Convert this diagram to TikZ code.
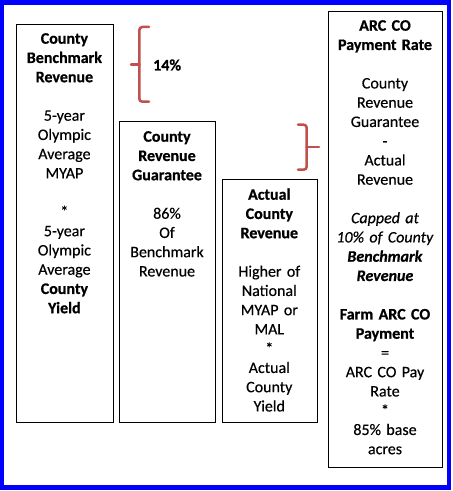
\documentclass[tikz,border=0pt]{standalone}
\usepackage{fontspec}
\setmainfont{Carlito}[UprightFeatures={FakeBold=0.35},BoldFeatures={FakeBold=0.7},
  ItalicFeatures={FakeBold=0.35},BoldItalicFeatures={FakeBold=0.7}]
\definecolor{framecol}{RGB}{0,0,255}
\definecolor{bracecol}{RGB}{192,80,77}
\tikzset{
  box/.style={draw=black, line width=1bp, anchor=north west, inner sep=0, fill=white},
  boxtext/.style={anchor=north, inner sep=0, align=center, text width=100bp,
    font=\fontsize{16bp}{19.25bp}\selectfont},
  brace/.style={draw=bracecol, line width=2.5bp, rounded corners=3bp, line cap=round},
}
\newcommand{\fl}{\rule{0pt}{13bp}}
\newcommand{\st}{\relax{*}}
\begin{document}
\begin{tikzpicture}[x=1bp,y=-1bp]
\useasboundingbox (0,0) rectangle (453,491);
\fill[white] (0,0) rectangle (453,491);
\draw[framecol, line width=4.5bp] (2.2,2.5) rectangle (449,487.5);

\node[box, minimum width=96.7bp, minimum height=398bp] (b1) at (16,24) {};
\node[box, minimum width=96bp, minimum height=301bp] (b2) at (119,121) {};
\node[box, minimum width=95.3bp, minimum height=243bp] (b3) at (221.7,179) {};
\node[box, minimum width=114bp, minimum height=456.3bp] (b4) at (328,10.7) {};

\node[boxtext] (t1) at (64.4,30.5) {\fl\textbf{County}\\ \textbf{Benchmark}\\ \textbf{Revenue}\\[19.25bp]
5-year\\ Olympic\\ Average\\ MYAP\\[19.25bp] \st\\ 5-year\\ Olympic\\ Average\\ \textbf{County}\\ \textbf{Yield}};

\node[boxtext] (t2) at (167,128.5) {\fl\textbf{County}\\ \textbf{Revenue}\\ \textbf{Guarantee}\\[19.25bp]
86\%\\ Of\\ Benchmark\\ Revenue};

\node[boxtext] (t3) at (269.3,186.5) {\fl\textbf{Actual}\\ \textbf{County}\\ \textbf{Revenue}\\[19.25bp]
Higher of\\ National\\ MYAP or\\ MAL\\ \st\\ Actual\\ County\\ Yield};

\node[boxtext] (t4) at (385,17.5) {\fl\textbf{ARC CO}\\ \textbf{Payment Rate}\\[19.25bp]
County\\ Revenue\\ Guarantee\\ -\\ Actual\\ Revenue\\[19.25bp]
\textit{Capped at}\\ \textit{10\% of County}\\ \textbf{\textit{Benchmark}}\\ \textbf{\textit{Revenue}}\\[19.25bp]
\textbf{Farm ARC CO}\\ \textbf{Payment}\\ =\\ ARC CO Pay\\ Rate\\ \st\\ 85\% base\\ acres};

% braces
\draw[brace] (149,27) -| (139.3,64.3);
\draw[brace] (139.3,64.3) |- (149,101.7);
\draw[brace] (139.3,64.3) -- (131,64.3);
\node[anchor=west, inner sep=0, font=\fontsize{16bp}{19.25bp}\selectfont\bfseries] (p14) at (153,65) {14\%};

\draw[brace] (298,124.7) -| (306.7,147);
\draw[brace] (306.7,147) |- (298,169.7);
\draw[brace] (306.7,147) -- (319,147);
\end{tikzpicture}
\end{document}
